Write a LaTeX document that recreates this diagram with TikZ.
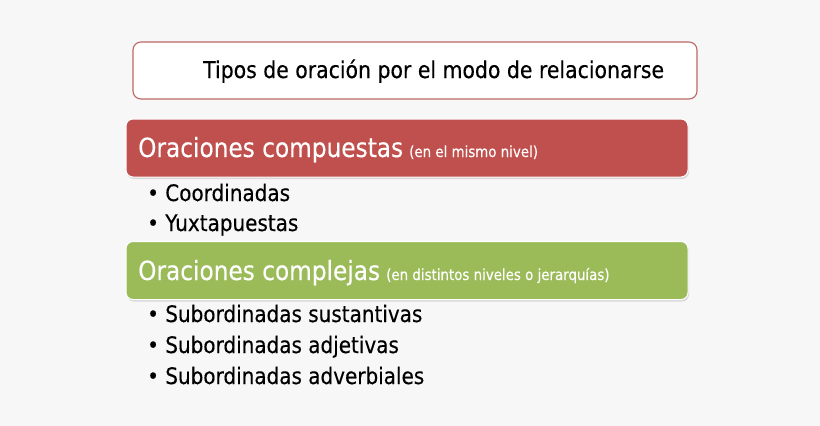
\documentclass[tikz,border=0pt]{standalone}
\usepackage{fontspec}
\setmainfont[FakeStretch=0.88,FakeBold=0.3]{DejaVu Sans}
\usepackage{xcolor}
\usetikzlibrary{positioning,shadows}
\definecolor{fondo}{RGB}{247,247,247}
\definecolor{rojo}{RGB}{192,80,77}
\definecolor{verde}{RGB}{155,187,89}
\definecolor{borde}{RGB}{188,104,100}

\begin{document}
\begin{tikzpicture}[x=1pt,y=-1pt,
    caja/.style={rectangle, rounded corners=7pt, draw=white, line width=1pt,
      minimum width=562pt, minimum height=58pt, inner sep=0pt,
      drop shadow={opacity=0.25, shadow xshift=1pt, shadow yshift=-2pt}},
    titulo/.style={rectangle, rounded corners=8pt, draw=borde, fill=white, line width=1.1pt,
      minimum width=564pt, minimum height=57pt, inner sep=0pt},
    texto/.style={anchor=base west, inner sep=0pt},
    grande/.style={texto, text=white, font=\fontsize{26.4}{31}\selectfont},
    chico/.style={texto, text=white, font=\fontsize{15.2}{18}\selectfont},
    punto/.style={texto, text=black, font=\fontsize{22.7}{27}\selectfont}]
  \fill[fondo] (0,0) rectangle (820,426);
  \useasboundingbox (0,0) rectangle (820,426);

  % titulo
  \node[titulo] (tit) at (415,70.5) {};
  \node[texto, font=\fontsize{23.2}{28}\selectfont] (titxt) at (203,78) {Tipos de oración por el modo de relacionarse};

  % oraciones compuestas
  \node[caja, fill=rojo] (comp) at (407,148) {};
  \node[grande] (comptxt) at (138,157) {Oraciones compuestas};
  \node[chico] (compnota) at (409,157) {(en el mismo nivel)};
  \node[punto] (coord) at (147,201) {• Coordinadas};
  \node[punto] (yuxt) at (147,231) {• Yuxtapuestas};

  % oraciones complejas
  \node[caja, fill=verde] (compl) at (407,270.5) {};
  \node[grande] (compltxt) at (138,280) {Oraciones complejas};
  \node[chico] (complnota) at (386,280) {(en distintos niveles o jerarquías)};
  \node[punto] (sust) at (147,322) {• Subordinadas sustantivas};
  \node[punto] (adje) at (147,353) {• Subordinadas adjetivas};
  \node[punto] (adve) at (147,384) {• Subordinadas adverbiales};
\end{tikzpicture}
\end{document}
